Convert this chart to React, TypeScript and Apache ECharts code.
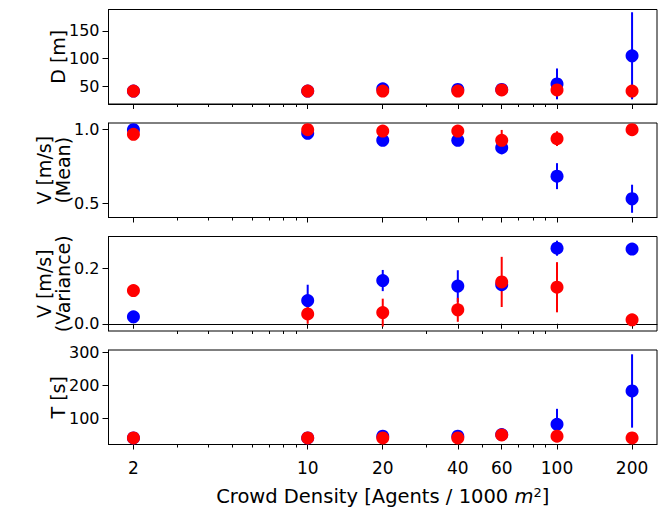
import React, { useEffect, useRef } from 'react';
import * as echarts from 'echarts';

// ---- data ----
const densities = [2, 10, 20, 40, 60, 100, 200];
const majorTicks = [2, 10, 20, 40, 60, 100, 200];
const minorTicks = [3, 4, 5, 6, 7, 8, 9, 30, 50, 70, 80, 90];

const distBlue = [41, 41, 45, 44, 44, 54, 105];
const distBlueErr = [2, 2, 3, 3, 3, 28, 79];
const distRed = [41, 41, 41, 41, 43, 43, 41];
const distRedErr = [1, 1, 2, 2, 2, 3, 1];
const distTicks = [50, 100, 150];

const meanBlue = [1.0, 0.975, 0.928, 0.928, 0.878, 0.685, 0.532];
const meanBlueErr = [0.01, 0.01, 0.015, 0.015, 0.045, 0.088, 0.095];
const meanRed = [0.968, 1.0, 0.99, 0.99, 0.928, 0.939, 1.0];
const meanRedErr = [0.01, 0.01, 0.01, 0.01, 0.07, 0.05, 0.005];
const meanTicks = [0.5, 1.0];

const varBlue = [0.025, 0.083, 0.155, 0.135, 0.14, 0.271, 0.268];
const varBlueErr = [0.005, 0.057, 0.038, 0.057, 0.01, 0.027, 0.008];
const varRed = [0.119, 0.035, 0.04, 0.05, 0.15, 0.131, 0.014];
const varRedErr = [0.02, 0.035, 0.05, 0.043, 0.09, 0.09, 0.005];
const varTicks = [0.0, 0.2];

const timeBlue = [41, 41, 46, 46, 51, 82, 183];
const timeBlueErr = [2, 2, 3, 3, 4, 47, 111];
const timeRed = [41, 41, 41, 41, 50, 46, 41];
const timeRedErr = [1, 1, 2, 2, 3, 3, 1];
const timeTicks = [100, 200, 300];

const FONT = 'DejaVu Sans';
const BLUE = '#0000ff';
const RED = '#ff0000';

const panels = [
  { name: 'D [m]', blue: distBlue, blueErr: distBlueErr, red: distRed, redErr: distRedErr, ticks: distTicks, min: 17.5, max: 189, dec: 0, top: 9.5, gap: 41 },
  { name: 'V [m/s]\n(Mean)', blue: meanBlue, blueErr: meanBlueErr, red: meanRed, redErr: meanRedErr, ticks: meanTicks, min: 0.405, max: 1.045, dec: 1, top: 123, gap: 36 },
  { name: 'V [m/s]\n(Variance)', blue: varBlue, blueErr: varBlueErr, red: varRed, redErr: varRedErr, ticks: varTicks, min: -0.026, max: 0.313, dec: 1, top: 236.5, gap: 36 },
  { name: 'T [s]', blue: timeBlue, blueErr: timeBlueErr, red: timeRed, redErr: timeRedErr, ticks: timeTicks, min: 21, max: 307, dec: 0, top: 350, gap: 41 },
];

const X_MIN = 2 / Math.pow(10, 0.1);
const X_MAX = 200 * Math.pow(10, 0.1);

function errSeries(idx: number, vals: number[], errs: number[], color: string) {
  return {
    type: 'custom',
    xAxisIndex: idx * 2,
    yAxisIndex: idx,
    data: densities.map((d, i) => [d, vals[i], errs[i]]),
    encode: { x: 0, y: 1 },
    silent: true,
    renderItem: (params: any, api: any) => {
      const x = api.value(0);
      const y = api.value(1);
      const e = api.value(2);
      const a = api.coord([x, y - e]);
      const b = api.coord([x, y + e]);
      return {
        type: 'line',
        shape: { x1: a[0], y1: a[1], x2: b[0], y2: b[1] },
        style: { stroke: color, lineWidth: 2 },
      };
    },
  };
}

function dotSeries(idx: number, vals: number[], color: string) {
  return {
    type: 'scatter',
    xAxisIndex: idx * 2,
    yAxisIndex: idx,
    symbol: 'circle',
    symbolSize: 13,
    itemStyle: { color, opacity: 1 },
    silent: true,
    data: densities.map((d, i) => [d, vals[i]]),
  };
}

export default function App() {
  const ref = useRef<HTMLDivElement>(null);
  useEffect(() => {
    if (!ref.current) return;
    const chart = echarts.init(ref.current, undefined, { renderer: 'svg' });
    const grids: any[] = [];
    const xAxes: any[] = [];
    const yAxes: any[] = [];
    const series: any[] = [];
    panels.forEach((p, i) => {
      grids.push({
        left: 108.5, right: 3, top: p.top, height: 94.5,
        show: true, borderColor: '#000', borderWidth: 1, backgroundColor: 'transparent',
        containLabel: false, outerBoundsMode: 'none',
      });
      xAxes.push({
        type: 'log', logBase: 10, gridIndex: i, position: 'bottom', min: X_MIN, max: X_MAX,
        axisLine: { show: true, lineStyle: { color: '#000', width: 1 } },
        axisTick: { show: true, length: 5, customValues: majorTicks, lineStyle: { color: '#000', width: 1 } },
        axisLabel: {
          show: i === 3, customValues: majorTicks, margin: 15,
          fontFamily: FONT, fontSize: 17, color: '#000',
          formatter: (v: number) => String(Math.round(v)),
        },
        splitLine: { show: false },
        minorTick: { show: false },
        minorSplitLine: { show: false },
        name: i === 3 ? 'Crowd Density [Agents / 1000 {m|m}{sup|2}]' : '',
        nameLocation: 'middle',
        nameGap: 41,
        nameMoveOverlap: false,
        nameTextStyle: {
          fontFamily: FONT, fontSize: 19.5, color: '#000', lineHeight: 22,
          rich: {
            m: { fontFamily: FONT, fontSize: 19.5, fontStyle: 'italic', color: '#000', lineHeight: 22 },
            sup: { fontFamily: FONT, fontSize: 13, color: '#000', lineHeight: 13, padding: [0, 0, 9, 0] },
          },
        },
      });
      xAxes.push({
        type: 'log', logBase: 10, gridIndex: i, position: 'bottom', min: X_MIN, max: X_MAX,
        axisLine: { show: false },
        axisTick: { show: true, length: 3, customValues: minorTicks, lineStyle: { color: '#000', width: 1 } },
        axisLabel: { show: false },
        splitLine: { show: false },
      });
      yAxes.push({
        type: 'value', gridIndex: i, min: p.min, max: p.max,
        axisLine: { show: true, lineStyle: { color: '#000', width: 1 } },
        axisTick: { show: true, length: 6, customValues: p.ticks, lineStyle: { color: '#000', width: 1 } },
        axisLabel: {
          customValues: p.ticks, margin: 9, fontFamily: FONT, fontSize: 16, color: '#000',
          formatter: (v: number) => v.toFixed(p.dec),
        },
        splitLine: { show: false },
        name: p.name,
        nameLocation: 'middle',
        nameRotate: 90,
        nameGap: p.gap,
        nameMoveOverlap: false,
        nameTextStyle: { fontFamily: FONT, fontSize: 19, color: '#000', lineHeight: 19 },
      });
      series.push(errSeries(i, p.blue, p.blueErr, BLUE));
      series.push(dotSeries(i, p.blue, BLUE));
      series.push(errSeries(i, p.red, p.redErr, RED));
      series.push(dotSeries(i, p.red, RED));
    });
    chart.setOption({
      animation: false,
      backgroundColor: '#fff',
      grid: grids,
      xAxis: xAxes,
      yAxis: yAxes,
      series,
    });
    return () => chart.dispose();
  }, []);
  return (
    <div
      ref={ref}
      style={{ position: 'absolute', left: 0, top: 0, width: 660, height: 512 }}
    />
  );
}
